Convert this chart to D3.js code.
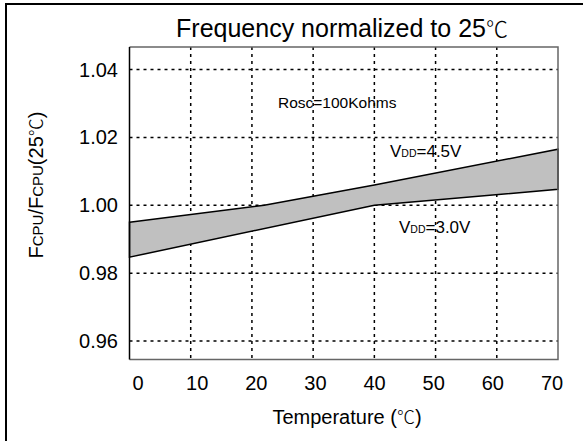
<!DOCTYPE html>
<html><head><meta charset="utf-8">
<script src="https://cdn.jsdelivr.net/npm/d3@7"></script>
<style>body{margin:0;background:#fff}svg{display:block}text{font-family:"Liberation Sans",Arial,sans-serif;fill:#000}.cjk{font-family:"Noto Sans CJK SC",sans-serif;font-weight:300}</style>
</head><body>
<svg id="c" width="583" height="441"></svg>
<script>
const xTicks = [0, 10, 20, 30, 40, 50, 60, 70];
const yTicks = [0.96, 0.98, 1.00, 1.02, 1.04];
const upperTemp = [0, 22, 40, 70];
const upperVal = [0.995, 1.000, 1.006, 1.0165];
const lowerTemp = [0, 40, 70];
const lowerVal = [0.9847, 1.000, 1.0047];

(function () {
const svg = d3.select("#c");
const x = d3.scaleLinear().domain([0, 70]).range([129.5, 558]);
const xl = d3.scaleLinear().domain([0, 70]).range([138, 552]);
const y = d3.scaleLinear().domain([0.96, 1.04]).range([341, 69.5]);
const pTop = 47, pBot = 359.5, pLeft = 129.5, pRight = 558;

// outer frame
svg.append("rect").attr("x", 6).attr("y", 4).attr("width", 600).attr("height", 460)
  .attr("fill", "none").attr("stroke", "#000").attr("stroke-width", 2);

// grid
svg.append("g").selectAll("line").data(xTicks.slice(1, -1)).join("line")
  .attr("x1", d => x(d)).attr("x2", d => x(d)).attr("y1", pTop).attr("y2", pBot)
  .attr("stroke", "#000").attr("stroke-width", 1.5).attr("stroke-dasharray", "3,4");
svg.append("g").selectAll("line").data(yTicks).join("line")
  .attr("x1", pLeft).attr("x2", pRight).attr("y1", d => y(d)).attr("y2", d => y(d))
  .attr("stroke", "#000").attr("stroke-width", 1.5).attr("stroke-dasharray", "3,4");

// band
const pts = upperTemp.map((t, i) => [x(t), y(upperVal[i])])
  .concat(lowerTemp.map((t, i) => [x(t), y(lowerVal[i])]).reverse());
svg.append("path").attr("d", d3.line()(pts) + "Z")
  .attr("fill", "#c0c0c0").attr("stroke", "#000").attr("stroke-width", 1.5);

// plot frame
svg.append("path").attr("d", `M${pLeft},${pTop}H${pRight}V${pBot}H${pLeft}`)
  .attr("fill", "none").attr("stroke", "#666").attr("stroke-width", 1.5);
svg.append("line").attr("x1", pLeft).attr("x2", pLeft).attr("y1", pTop).attr("y2", pBot)
  .attr("stroke", "#000").attr("stroke-width", 1.5);

// tick labels
svg.append("g").selectAll("text").data(yTicks).join("text")
  .attr("x", 118).attr("y", d => y(d) + 7).attr("text-anchor", "end")
  .attr("font-size", 20).text(d => d.toFixed(2));
svg.append("g").selectAll("text").data(xTicks).join("text")
  .attr("x", d => xl(d)).attr("y", 390).attr("text-anchor", "middle")
  .attr("font-size", 20).text(d => d);

// titles
const tt = svg.append("text").attr("x", 342).attr("y", 37).attr("text-anchor", "middle")
  .attr("font-size", 25);
tt.append("tspan").text("Frequency normalized to 25");
tt.append("tspan").attr("class", "cjk").attr("font-size", 22).text("℃");
const xt = svg.append("text").attr("x", 347).attr("y", 424).attr("text-anchor", "middle")
  .attr("font-size", 20);
xt.append("tspan").text("Temperature (");
xt.append("tspan").attr("class", "cjk").attr("font-size", 18).text("℃");
xt.append("tspan").text(")");
const yt = svg.append("text").attr("transform", "translate(43,185) rotate(-90)")
  .attr("text-anchor", "middle").attr("font-size", 20);
yt.append("tspan").text("F");
yt.append("tspan").attr("font-size", 15).text("CPU");
yt.append("tspan").text("/F");
yt.append("tspan").attr("font-size", 15).text("CPU");
yt.append("tspan").text("(25");
yt.append("tspan").attr("class", "cjk").attr("font-size", 18).text("℃");
yt.append("tspan").text(")");

// annotations
svg.append("text").attr("x", 278).attr("y", 108).attr("font-size", 15.5).text("Rosc=100Kohms");
const a1 = svg.append("text").attr("x", 390).attr("y", 157).attr("font-size", 17);
a1.append("tspan").text("V");
a1.append("tspan").attr("font-size", 10.5).text("DD");
a1.append("tspan").text("=4.5V");
const a2 = svg.append("text").attr("x", 399).attr("y", 233).attr("font-size", 17);
a2.append("tspan").text("V");
a2.append("tspan").attr("font-size", 10.5).text("DD");
a2.append("tspan").text("=3.0V");
})();
</script>
</body></html>
